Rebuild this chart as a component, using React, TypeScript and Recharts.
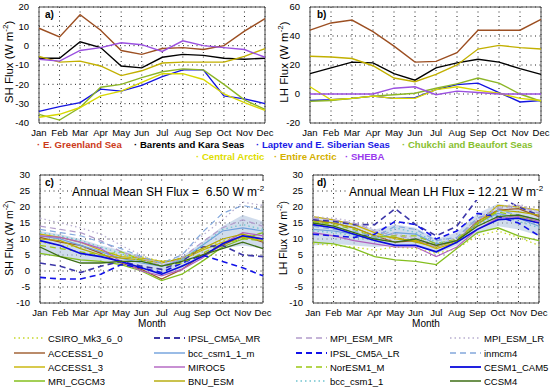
import { ComposedChart, Line, Area, XAxis, YAxis, CartesianGrid, ReferenceArea } from 'recharts';

const months = ['Jan', 'Feb', 'Mar', 'Apr', 'May', 'Jun', 'Jul', 'Aug', 'Sep', 'Oct', 'Nov', 'Dec'];

// a) observed sensible heat flux by region
const greenlandSH = [9, 4.5, 16, 8, -2.5, -4.5, -1.5, -1, -2, 0, 7.5, 14];
const barentsSH = [-6.5, -6.5, 2, -1, -10.5, -11.5, -6, -4.5, -5, -6.5, -7, -6.5];
const laptevSH = [-34, -31.5, -29.5, -22.5, -23.5, -20.5, -16, -12.5, -12.5, -26, -27.5, -30];
const chukchiSH = [-35.5, -38.5, -32, -21.5, -20, -16.5, -13.5, -12, -12.5, -20, -28, -33];
const centralSH = [-37, -35.5, -32, -26, -23.5, -19, -14.5, -14.5, -17.5, -25, -29.5, -33.5];
const entireSH = [-5.5, -8.5, -8, -10.5, -15.5, -13, -9, -8.5, -8.5, -8.5, -5.5, -1.5];
const shebaSH = [-7, -8, -2.5, -1, 1.5, 0.5, -3, 2.5, 0, -1, -2, -6];

// b) observed latent heat flux by region
const greenlandLH = [44, 49, 51, 43, 33, 22, 22.5, 28.5, 44, 44, 44, 51.5];
const barentsLH = [14, 18, 22, 21.5, 14, 9.5, 18, 21.5, 24, 22, 17.5, 13.5];
const laptevLH = [-4.5, -4, -3, -1.5, -3, -2.5, 3, 6.5, 7.5, 1, -5.5, -4.5];
const chukchiLH = [-5, -4.5, -3, -1.5, -0.5, 0.5, 4, 7, 11, 7.5, 0, -5];
const centralLH = [5, -4, -3, -1.5, -3, -3, 3, 5, 2.5, 0.5, -3, -4.5];
const entireLH = [26, 25.5, 24.5, 19.5, 11, 8.5, 13.5, 20, 31, 33.5, 32, 31];
const shebaLH = [0, 0, 0, 0, 4, 5, -0.5, 2, 1, 0, 0, 0];

// c) model sensible heat flux
const sh_CSIRO = [9, 8, 7.5, 6, 5, 4.5, 3, 4, 6.5, 9.5, 10.5, 12];
const sh_ACCESS10 = [10.5, 9, 8, 5.5, 2.5, 0.5, -2.5, 0.5, 5, 8, 11, 9];
const sh_ACCESS13 = [11.5, 10.5, 9, 6.5, 4.5, 4, 3, 3.5, 6.5, 9, 10.5, 9.5];
const sh_MRI = [5.5, 4.5, 3.5, 3, 2, 0, -3, -1, 3, 7.5, 10, 12];
const sh_IPSLMR = [2.5, 1.5, -0.5, 1.5, 3, 1.5, 0.5, 3, 7.5, 8, 5, 4.5];
const sh_BCCM = [11, 10, 8, 6, 4, 2.5, 1.5, 3.5, 8, 12.5, 13.5, 12.5];
const sh_MIROC5 = [11, 10.5, 9, 7, 3, 0, -1.5, 0.5, 4, 8.5, 12, 11];
const sh_BNU = [10, 9.5, 7, 5, 4, 3.5, 2.5, 4, 7, 10, 11.5, 10];
const sh_MPIMR = [14, 13, 12, 9.5, 6, 4, 1.5, 4, 9, 13.5, 16, 14];
const sh_IPSLLR = [-2, -2.5, -2.5, -1, 2, 1, -0.5, 2.5, 5, 3, 1, -1.5];
const sh_NorESM = [8, 7, 6, 5, 6, 3.5, 1.5, 2.5, 5.5, 8.5, 10, 9.5];
const sh_BCC = [12, 11, 9.5, 7.5, 5.5, 3, 1.5, 3.5, 8, 13, 14.5, 13];
const sh_MPILR = [16.5, 15, 13.5, 11.5, 8, 5, 2, 5, 11, 16, 21.5, 20.5];
const sh_INM = [13, 12, 11, 9, 7, 4.5, 2.5, 5, 12, 18, 20.5, 19];
const sh_CESM = [9.5, 8, 5.5, 4.5, 3, 1, -1, 1.5, 4.5, 8.5, 11, 10];
const sh_CCSM4 = [7.5, 4.5, 2.5, 2.5, 3, 3, 1.5, 3, 5, 7, 9, 7];
const shBandLo = [5, 4.5, 3, 2.5, 2, 0.5, -1.5, 0.5, 4, 7, 8, 7];
const shBandHi = [12.5, 11.5, 10, 8, 6.5, 4.5, 2.5, 4.5, 9, 14, 17.5, 15.5];

// d) model latent heat flux
const lh_CSIRO = [8.5, 8, 7.5, 6.5, 7.5, 7, 5.5, 7, 11, 12.5, 10.5, 8];
const lh_ACCESS10 = [16, 15, 13.5, 11, 9, 9.5, 8, 9.5, 15.5, 19, 19.5, 17];
const lh_ACCESS13 = [17, 16, 14.5, 12, 10, 9.5, 7, 9, 15, 20.5, 20, 19];
const lh_MRI = [9, 8.5, 7, 4.5, 3.5, 3, 2, 7, 12, 13.5, 11, 9.5];
const lh_IPSLMR = [16, 15.5, 14.5, 14.5, 19.5, 14.5, 11, 14, 22.5, 23.5, 20, 17.5];
const lh_BCCM = [13, 12.5, 11.5, 10, 12, 11.5, 8.5, 9.5, 15, 18, 16.5, 14];
const lh_MIROC5 = [12, 11, 9.5, 8.5, 7.5, 7.5, 4.5, 7.5, 13, 16.5, 17, 15.5];
const lh_BNU = [15.5, 15, 13.5, 11, 10.5, 9, 7.5, 9.5, 14.5, 19, 18.5, 17.5];
const lh_MPIMR = [16.5, 16, 15, 12.5, 11, 10, 7.5, 10, 16, 19.5, 20.5, 18];
const lh_IPSLLR = [11.5, 11, 10.5, 11.5, 15.5, 14.5, 10, 12.5, 18, 17, 15, 11];
const lh_NorESM = [15.5, 14.5, 13, 10.5, 11, 11, 8.5, 10, 15, 18.5, 17, 15];
const lh_BCC = [12.5, 12, 11, 9.5, 13.5, 12, 9, 9, 14.5, 17.5, 15.5, 13.5];
const lh_MPILR = [17, 16.5, 15.5, 13, 11.5, 10.5, 8, 10.5, 16.5, 20, 21, 18.5];
const lh_INM = [14, 13, 12.5, 10.5, 14, 13, 9.5, 10.5, 16.5, 19, 17.5, 16];
const lh_CESM = [14.5, 13.5, 11.5, 9.5, 8, 8, 6, 9, 13, 16, 16.5, 15];
const lh_CCSM4 = [15, 14, 12, 10, 9, 10, 8, 9.5, 14, 17, 17.5, 16];
const lhBandLo = [8, 8.5, 8, 7.5, 8, 8, 5.5, 8, 11.5, 14, 13, 11];
const lhBandHi = [17, 16, 15, 13, 14.5, 13.5, 10, 12, 18, 21, 20, 19];

const shTicksA = [-40, -30, -20, -10, 0, 10, 20];
const lhTicksB = [-20, 0, 20, 40, 60];
const fluxTicksCD = [-10, -5, 0, 5, 10, 15, 20, 25, 30];

const regions = [
  { key: 'greenland', name: 'E. Greenland Sea', sh: greenlandSH, lh: greenlandLH, color: '#9c4f22', text: '#cc3a1a' },
  { key: 'barents', name: 'Barents and Kara Seas', sh: barentsSH, lh: barentsLH, color: '#000000', text: '#000000' },
  { key: 'laptev', name: 'Laptev and E. Siberian Seas', sh: laptevSH, lh: laptevLH, color: '#1414e0', text: '#1a1ae6' },
  { key: 'chukchi', name: 'Chukchi and Beaufort Seas', sh: chukchiSH, lh: chukchiLH, color: '#8cb526', text: '#88c030' },
  { key: 'central', name: 'Central Arctic', sh: centralSH, lh: centralLH, color: '#d8d800', text: '#dede00' },
  { key: 'entire', name: 'Entire Arctic', sh: entireSH, lh: entireLH, color: '#c2b000', text: '#d4b000' },
  { key: 'sheba', name: 'SHEBA', sh: shebaSH, lh: shebaLH, color: '#9a50e0', text: '#9a3aee' },
];

const models = [
  { key: 'CSIRO', name: 'CSIRO_Mk3_6_0', sh: sh_CSIRO, lh: lh_CSIRO, color: '#c6d82a', dash: '1.5 3', w: 1.3 },
  { key: 'ACCESS10', name: 'ACCESS1_0', sh: sh_ACCESS10, lh: lh_ACCESS10, color: '#9c5a2a', dash: undefined, w: 1.2 },
  { key: 'ACCESS13', name: 'ACCESS1_3', sh: sh_ACCESS13, lh: lh_ACCESS13, color: '#c8b400', dash: undefined, w: 1.2 },
  { key: 'MRI', name: 'MRI_CGCM3', sh: sh_MRI, lh: lh_MRI, color: '#84bf1e', dash: undefined, w: 1.3 },
  { key: 'IPSLMR', name: 'IPSL_CM5A_MR', sh: sh_IPSLMR, lh: lh_IPSLMR, color: '#3c36a8', dash: '6 4', w: 1.6 },
  { key: 'BCCM', name: 'bcc_csm1_1_m', sh: sh_BCCM, lh: lh_BCCM, color: '#6fa0dc', dash: undefined, w: 1.2 },
  { key: 'MIROC5', name: 'MIROC5', sh: sh_MIROC5, lh: lh_MIROC5, color: '#b060c0', dash: undefined, w: 1.2 },
  { key: 'BNU', name: 'BNU_ESM', sh: sh_BNU, lh: lh_BNU, color: '#b4a800', dash: undefined, w: 1.2 },
  { key: 'MPIMR', name: 'MPI_ESM_MR', sh: sh_MPIMR, lh: lh_MPIMR, color: '#b29ccc', dash: '6 4', w: 1.2 },
  { key: 'IPSLLR', name: 'IPSL_CM5A_LR', sh: sh_IPSLLR, lh: lh_IPSLLR, color: '#1212e8', dash: '6 4', w: 1.6 },
  { key: 'NorESM', name: 'NorESM1_M', sh: sh_NorESM, lh: lh_NorESM, color: '#9cc814', dash: '6 4', w: 1.2 },
  { key: 'BCC', name: 'bcc_csm1_1', sh: sh_BCC, lh: lh_BCC, color: '#70c4d0', dash: '1.5 3', w: 1.3 },
  { key: 'MPILR', name: 'MPI_ESM_LR', sh: sh_MPILR, lh: lh_MPILR, color: '#b8aed0', dash: '1.5 3', w: 1.3 },
  { key: 'INM', name: 'inmcm4', sh: sh_INM, lh: lh_INM, color: '#84a8dc', dash: '6 4', w: 1.2 },
  { key: 'CESM', name: 'CESM1_CAM5', sh: sh_CESM, lh: lh_CESM, color: '#0a0adc', dash: undefined, w: 1.6 },
  { key: 'CCSM4', name: 'CCSM4', sh: sh_CCSM4, lh: lh_CCSM4, color: '#3c6e14', dash: undefined, w: 1.3 },
];

const obsSH = months.map((m, i) => {
  const row: Record<string, any> = { month: m };
  regions.forEach(r => { row[r.key] = r.sh[i]; });
  return row;
});
const obsLH = months.map((m, i) => {
  const row: Record<string, any> = { month: m };
  regions.forEach(r => { row[r.key] = r.lh[i]; });
  return row;
});
const modSH = months.map((m, i) => {
  const row: Record<string, any> = { month: m, band: [shBandLo[i], shBandHi[i]] };
  models.forEach(md => { row[md.key] = md.sh[i]; });
  return row;
});
const modLH = months.map((m, i) => {
  const row: Record<string, any> = { month: m, band: [lhBandLo[i], lhBandHi[i]] };
  models.forEach(md => { row[md.key] = md.lh[i]; });
  return row;
});

const FONT = '"Liberation Sans", Arial, Helvetica, sans-serif';
const tickStyle = { fontSize: 9.5, fill: '#000', fontFamily: FONT };

function Panel({ x, y, w, h, data, domain, ticks, children }: {
  x: number; y: number; w: number; h: number;
  data: Record<string, any>[]; domain: [number, number]; ticks: number[];
  children: any;
}) {
  const ml = 30, mt = 6, mr = 12, xh = 16;
  return (
    <div style={{ position: 'absolute', left: x - ml, top: y - mt }}>
      <ComposedChart width={w + ml + mr} height={h + mt + xh} data={data} margin={{ top: mt, right: mr, left: 0, bottom: 0 }}>
        <CartesianGrid stroke="#222" strokeDasharray="1 3.5" />
        <XAxis dataKey="month" interval={0} height={xh} tickLine={false} axisLine={false} tick={tickStyle} tickMargin={0} />
        <YAxis type="number" width={ml} domain={domain} ticks={ticks} interval={0} allowDataOverflow
          tickLine={false} axisLine={false} tick={tickStyle} tickMargin={4} />
        {children}
        <ReferenceArea x1="Jan" x2="Dec" y1={domain[0]} y2={domain[1]} fill="none" fillOpacity={0} stroke="#4a4a4a" strokeWidth={1} ifOverflow="visible" />
      </ComposedChart>
    </div>
  );
}

function YTitle({ cx, cy, label, size }: { cx: number; cy: number; label: string; size: number }) {
  return (
    <div style={{ position: 'absolute', left: cx, top: cy, transform: 'translate(-50%, -50%) rotate(-90deg)', whiteSpace: 'nowrap', fontSize: size }}>
      {label} (W m<sup style={{ fontSize: size * 0.7 }}>-2</sup>)
    </div>
  );
}

const obsLines = (field: 'sh' | 'lh') => regions.map(r => (
  <Line key={r.key + field} dataKey={r.key} stroke={r.color} strokeWidth={1.4} dot={false} isAnimationActive={false} />
));

const modelLines = () => [
  <Area key="band" dataKey="band" stroke="none" fill="#a9bfdd" fillOpacity={0.55} isAnimationActive={false} />,
  ...models.map(md => (
    <Line key={md.key} dataKey={md.key} stroke={md.color} strokeWidth={md.w} strokeDasharray={md.dash} dot={false} isAnimationActive={false} />
  )),
];

const regionRow1 = regions.slice(0, 4);
const regionRow2 = regions.slice(4);
const row1X = [37, 134, 256, 402];
const row2X = [196, 274, 345];

const legendColX = [14, 154, 296, 450];
const legendRowY = [338, 353, 367, 381];

export default function App() {
  return (
    <div style={{ position: 'absolute', left: 0, top: 0, width: 550, height: 387, background: '#fff', fontFamily: FONT, color: '#000', overflow: 'hidden' }}>
      <Panel x={39} y={7} w={226} h={116} data={obsSH} domain={[-40, 20]} ticks={shTicksA}>
        {obsLines('sh')}
      </Panel>
      <Panel x={310} y={7} w={231} h={116} data={obsLH} domain={[-20, 60]} ticks={lhTicksB}>
        {obsLines('lh')}
      </Panel>
      <Panel x={40} y={175} w={223} h={128} data={modSH} domain={[-10, 30]} ticks={fluxTicksCD}>
        {modelLines()}
      </Panel>
      <Panel x={313} y={175} w={226} h={128} data={modLH} domain={[-10, 30]} ticks={fluxTicksCD}>
        {modelLines()}
      </Panel>

      <YTitle cx={8} cy={62} label="SH Flux" size={11.5} />
      <YTitle cx={283} cy={62} label="LH Flux" size={11.5} />
      <YTitle cx={8} cy={238} label="SH Flux" size={10.5} />
      <YTitle cx={282} cy={238} label="LH Flux" size={10.5} />

      <div style={{ position: 'absolute', left: 45, top: 9, fontSize: 10, fontWeight: 'bold' }}>a)</div>
      <div style={{ position: 'absolute', left: 317, top: 9, fontSize: 10, fontWeight: 'bold' }}>b)</div>
      <div style={{ position: 'absolute', left: 45, top: 177, fontSize: 10, fontWeight: 'bold' }}>c)</div>
      <div style={{ position: 'absolute', left: 317, top: 177, fontSize: 10, fontWeight: 'bold' }}>d)</div>

      <div style={{ position: 'absolute', left: 72, top: 181, fontSize: 12, whiteSpace: 'pre', background: '#fff', lineHeight: '15px' }}>
        Annual Mean SH Flux =  6.50 W m<sup style={{ fontSize: 8 }}>-2</sup>
      </div>
      <div style={{ position: 'absolute', left: 349, top: 181, fontSize: 12, whiteSpace: 'pre', background: '#fff', lineHeight: '15px' }}>
        Annual Mean LH Flux = 12.21 W m<sup style={{ fontSize: 8 }}>-2</sup>
      </div>

      <div style={{ position: 'absolute', left: 152, top: 319, width: 0, fontSize: 10, lineHeight: '10px' }}>
        <span style={{ position: 'absolute', transform: 'translateX(-50%)' }}>Month</span>
      </div>
      <div style={{ position: 'absolute', left: 426, top: 319, width: 0, fontSize: 10, lineHeight: '10px' }}>
        <span style={{ position: 'absolute', transform: 'translateX(-50%)' }}>Month</span>
      </div>

      {regionRow1.map((r, i) => (
        <div key={r.key} style={{ position: 'absolute', left: row1X[i], top: 139, fontSize: 9.6, fontWeight: 'bold', color: r.text, whiteSpace: 'nowrap' }}>
          · {r.name}
        </div>
      ))}
      {regionRow2.map((r, i) => (
        <div key={r.key} style={{ position: 'absolute', left: row2X[i], top: 151, fontSize: 9.6, fontWeight: 'bold', color: r.text, whiteSpace: 'nowrap' }}>
          · {r.name}
        </div>
      ))}

      {models.map((md, i) => {
        const col = Math.floor(i / 4);
        const row = i % 4;
        const lx = legendColX[col];
        const ly = legendRowY[row];
        return (
          <div key={md.key} style={{ position: 'absolute', left: lx, top: ly - 7, height: 14, display: 'flex', alignItems: 'center', whiteSpace: 'nowrap' }}>
            <svg width={31} height={14} style={{ display: 'block' }}>
              <line x1={0} y1={7} x2={31} y2={7} stroke={md.color} strokeWidth={md.w + 0.2} strokeDasharray={md.dash} />
            </svg>
            <span style={{ fontSize: 9.5, marginLeft: 3 }}>{md.name}</span>
          </div>
        );
      })}
    </div>
  );
}
